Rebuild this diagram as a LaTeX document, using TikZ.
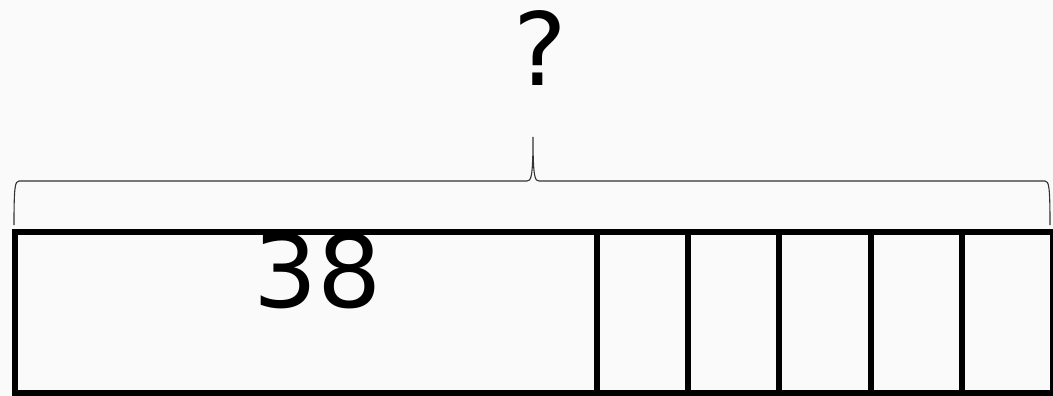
\documentclass[tikz,border=0pt]{standalone}
\usepackage{fontspec}
\setmainfont{DejaVu Sans}
\definecolor{bgcol}{RGB}{250,250,250}
\begin{document}
\begin{tikzpicture}[x=1pt, y=-1pt,
    bar/.style={draw=black, line width=6pt},
    brace/.style={draw=black!80, line width=1.1pt},
    lbl/.style={font=\fontsize{101}{110}\selectfont, inner sep=0pt, anchor=base},
  ]
  \fill[bgcol] (0,0) rectangle (1053,396);
  \useasboundingbox (0,0) rectangle (1053,396);
  % tape
  \draw[bar] (15,231.5) rectangle (1053,392.5);
  \foreach \x in {597,688.2,779.4,870.6,961.8}
    \draw[bar] (\x,231.5) -- (\x,392.5);
  \node[lbl] (part) at (317.5,307) {38};
  % brace over the whole tape
  \coordinate (bl) at (14,225);
  \coordinate (tip) at (533,137);
  \coordinate (br) at (1050,225);
  \draw[brace] (bl) .. controls (14,187) and (15,181) .. (19,181) -- (527,181)
    .. controls (531,181) and (533,178) .. (tip)
    .. controls (533,178) and (535,181) .. (539,181) -- (1045,181)
    .. controls (1049,181) and (1050,187) .. (br);
  \node[lbl] (total) at (540,85) {?};
\end{tikzpicture}
\end{document}
